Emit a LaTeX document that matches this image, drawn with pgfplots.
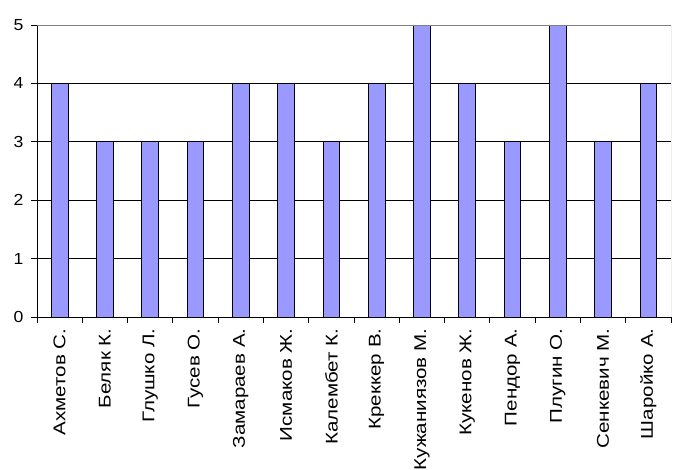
\documentclass[border=0pt]{standalone}
\usepackage{pgfplots}
\pgfplotsset{compat=1.18}
\usepackage{fontspec}
\setmainfont{Liberation Sans}
\newfontfamily\labfont[FakeStretch=1.21]{Liberation Sans}
\newfontfamily\numfont[FakeStretch=1.1]{Liberation Sans}
\definecolor{barfill}{HTML}{9999FF}
\begin{document}
\begin{tikzpicture}
\begin{axis}[
  name=ax,
  scale only axis,
  width=634bp, height=292bp,
  xmin=-0.5, xmax=13.5,
  ymin=0, ymax=5,
  axis x line*=bottom, axis y line*=left,
  axis line style={black, line width=0.8pt, -},
  ybar, bar width=16.7bp,
  xtick={0,...,13},
  xticklabels={Ахметов С.,Беляк К.,Глушко Л.,Гусев О.,Замараев А.,Исмаков Ж.,Калембет К.,Креккер В.,Кужаниязов М.,Кукенов Ж.,Пендор А.,Плугин О.,Сенкевич М.,Шаройко А.},
  x tick label style={rotate=90, anchor=east, font=\labfont\fontsize{17bp}{20bp}\selectfont},
  xticklabel shift=2bp,
  major x tick style={draw=none},
  minor xtick={-0.5,0.5,...,13.5},
  minor x tick style={black, line width=0.8pt},
  minor tick length=6bp,
  ytick={0,...,5},
  ymajorgrids,
  grid style={black, line width=0.8pt},
  major y tick style={black, line width=0.8pt},
  major tick length=6bp,
  tick align=outside,
  y tick label style={font=\numfont\fontsize{16bp}{19bp}\selectfont},
  /pgf/number format/assume math mode=true,
  yticklabel shift=4bp,
]
\addplot[fill=barfill, draw=black, line width=0.8pt] coordinates {
 (0,4) (1,3) (2,3) (3,3) (4,4) (5,4) (6,3) (7,4) (8,5) (9,4) (10,3) (11,5) (12,3) (13,4)
};
\draw[gray, line width=1pt] (rel axis cs:0,1) -- (rel axis cs:1,1) -- (rel axis cs:1,0);
\end{axis}
\pgfresetboundingbox
\useasboundingbox ([xshift=-37bp,yshift=-153bp]ax.south west) rectangle ([xshift=8bp,yshift=25bp]ax.north east);
\end{tikzpicture}
\end{document}
